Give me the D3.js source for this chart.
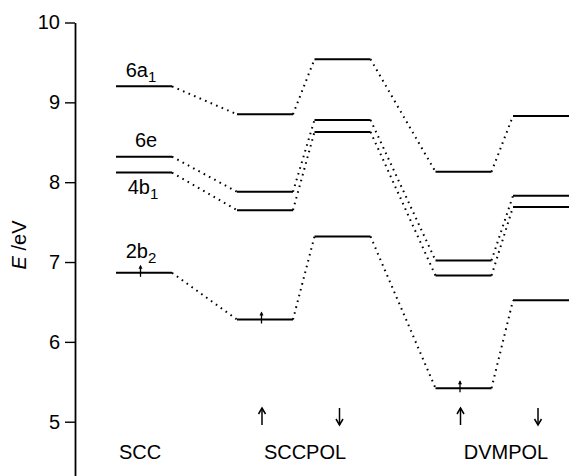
<!DOCTYPE html>
<html>
<head>
<meta charset="utf-8">
<script src="https://cdn.jsdelivr.net/npm/d3@7"></script>
<style>
  html, body { margin: 0; padding: 0; background: #fff; }
  svg { display: block; font-family: "Liberation Sans", Arial, Helvetica, sans-serif; }
</style>
</head>
<body>
<svg id="chart" width="571" height="476"></svg>
<script>
// ---- data ----
const orbitals = ["6a1", "6e", "4b1", "2b2"];
const methods = ["SCC", "SCCPOL", "DVMPOL"];
const columns = ["SCC", "SCCPOL-up", "SCCPOL-down", "DVMPOL-up", "DVMPOL-down"];
const sccLevels        = [9.20, 8.32, 8.12, 6.865];
const sccpolUpLevels   = [8.85, 7.88, 7.65, 6.28];
const sccpolDownLevels = [9.54, 8.78, 8.63, 7.32];
const dvmpolUpLevels   = [8.13, 7.02, 6.83, 5.42];
const dvmpolDownLevels = [8.83, 7.83, 7.69, 6.52];
const occupiedColumns  = ["SCC", "SCCPOL-up", "DVMPOL-up"]; // 2b2 single electron
const spinColumns = ["SCCPOL-up", "SCCPOL-down", "DVMPOL-up", "DVMPOL-down"];
const yTicks = [5, 6, 7, 8, 9, 10];
const yLabel = "E";
const yUnit = " /eV";

const levelTable = columns.map((c, i) => ({
  col: c,
  values: [sccLevels, sccpolUpLevels, sccpolDownLevels, dvmpolUpLevels, dvmpolDownLevels][i]
}));

// ---- scales ----
const svg = d3.select("#chart");
const y = d3.scaleLinear().domain([4.32, 10]).range([476, 22.5]);
const methodX = d3.scaleOrdinal().domain(methods).range([144, 304, 502.5]);
const colX = c => {
  const [m, s] = c.split("-");
  const base = methodX(m);
  if (!s) return base;
  return base + (s === "up" ? -39 : 38.5);
};
const halfW = 28;

// ---- axis ----
const axis = d3.axisLeft(y).tickValues(yTicks).tickSize(10).tickSizeOuter(0).tickPadding(5)
  .tickFormat(d3.format("d"));
const gAxis = svg.append("g").attr("transform", "translate(75,0)").call(axis);
gAxis.select(".domain").attr("stroke", "#000").attr("stroke-width", 1.8);
gAxis.selectAll(".tick line").attr("stroke", "#000").attr("stroke-width", 1.4);
gAxis.selectAll(".tick text").attr("font-size", 20).attr("fill", "#000")
  .attr("font-family", "Liberation Sans, Arial, sans-serif");

// y label
const yl = svg.append("text")
  .attr("transform", "translate(26,245) rotate(-90)")
  .attr("text-anchor", "middle")
  .attr("font-size", 20).attr("fill", "#000");
yl.append("tspan").attr("font-style", "italic").text(yLabel);
yl.append("tspan").text(yUnit);

// ---- connectors (dotted) ----
const conn = svg.append("g");
for (let i = 0; i < columns.length - 1; i++) {
  const a = levelTable[i], b = levelTable[i + 1];
  orbitals.forEach((o, k) => {
    conn.append("line")
      .attr("x1", colX(a.col) + halfW).attr("y1", y(a.values[k]))
      .attr("x2", colX(b.col) - halfW).attr("y2", y(b.values[k]))
      .attr("stroke", "#000").attr("stroke-width", 2)
      .attr("stroke-dasharray", "1.6,4.4").attr("stroke-linecap", "butt");
  });
}

// ---- levels ----
const lv = svg.append("g");
levelTable.forEach(t => {
  t.values.forEach(v => {
    lv.append("line")
      .attr("x1", colX(t.col) - halfW).attr("x2", colX(t.col) + halfW)
      .attr("y1", y(v)).attr("y2", y(v))
      .attr("stroke", "#000").attr("stroke-width", 2);
  });
});

// ---- electron arrows on 2b2 ----
const k2b2 = orbitals.indexOf("2b2");
occupiedColumns.forEach(c => {
  const t = levelTable.find(d => d.col === c);
  const cx = colX(c) - 3.5, cy = y(t.values[k2b2]);
  svg.append("line").attr("x1", cx).attr("x2", cx).attr("y1", cy + 4).attr("y2", cy - 7)
    .attr("stroke", "#000").attr("stroke-width", 1.3);
  svg.append("path").attr("d", `M${cx - 2},${cy - 4} L${cx},${cy - 8} L${cx + 2},${cy - 4} Z`)
    .attr("fill", "#000");
});

// ---- orbital labels on SCC ----
const sccX = colX("SCC");
function orbLabel(name, x, yy) {
  const t = svg.append("text").attr("x", x).attr("y", yy).attr("text-anchor", "middle")
    .attr("font-size", 20).attr("fill", "#000");
  const m = name.match(/^(\d[a-z])(\d?)$/);
  t.append("tspan").text(m[1]);
  if (m[2]) t.append("tspan").attr("font-size", 15).attr("dy", 5).text(m[2]);
}
orbLabel(orbitals[0], sccX - 3, y(sccLevels[0]) - 9);
orbLabel(orbitals[1], sccX + 2, y(sccLevels[1]) - 10);
orbLabel(orbitals[2], sccX - 1, y(sccLevels[2]) + 21);
orbLabel(orbitals[3], sccX - 3, y(sccLevels[3]) - 15);

// ---- spin arrows ----
spinColumns.forEach(c => {
  const up = c.endsWith("up");
  const cx = colX(c) - 3, top = 408, bot = 425;
  const g = svg.append("g").attr("stroke", "#000").attr("stroke-width", 1.5).attr("fill", "none");
  g.append("line").attr("x1", cx).attr("x2", cx).attr("y1", top).attr("y2", bot);
  if (up) g.append("path").attr("d", `M${cx - 3.5},${top + 6} L${cx},${top} L${cx + 3.5},${top + 6}`);
  else g.append("path").attr("d", `M${cx - 3.5},${bot - 6} L${cx},${bot} L${cx + 3.5},${bot - 6}`);
});

// ---- method labels ----
const labelOffsets = { "SCC": -4, "SCCPOL": 1, "DVMPOL": 3.5 };
methods.forEach(m => {
  svg.append("text").attr("x", methodX(m) + labelOffsets[m]).attr("y", 459)
    .attr("text-anchor", "middle").attr("font-size", 20).attr("fill", "#000").text(m);
});
</script>
</body>
</html>
